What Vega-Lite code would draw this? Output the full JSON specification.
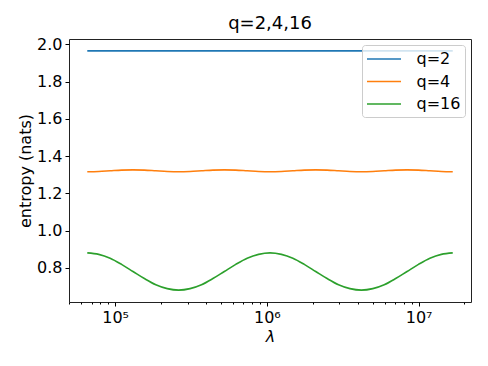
{
  "$schema": "https://vega.github.io/schema/vega-lite/v6.json",
  "width": 402,
  "height": 263,
  "autosize": {"type": "none"},
  "padding": {"left": 69, "top": 39, "right": 17, "bottom": 64},
  "background": "white",
  "config": {
    "font": "DejaVu Sans",
    "view": {"stroke": "#222", "strokeWidth": 1},
    "axis": {"grid": false, "domain": false, "tickColor": "#000", "tickWidth": 1, "labelColor": "#000", "titleColor": "#000", "labelFont": "DejaVu Sans", "titleFont": "DejaVu Sans", "titleFontWeight": "normal"}
  },
  "title": {"text": "q=2,4,16", "fontSize": 18, "fontWeight": "normal", "font": "DejaVu Sans", "color": "#000", "offset": 3},
  "data": {
    "values": [
      {"lambda": 65536, "q2": 1.965, "q4": 1.316, "q16": 0.88},
      {"lambda": 77936, "q2": 1.965, "q4": 1.3175, "q16": 0.872},
      {"lambda": 92682, "q2": 1.965, "q4": 1.321, "q16": 0.851},
      {"lambda": 110218, "q2": 1.965, "q4": 1.3245, "q16": 0.818},
      {"lambda": 131072, "q2": 1.965, "q4": 1.326, "q16": 0.78},
      {"lambda": 155872, "q2": 1.965, "q4": 1.3245, "q16": 0.742},
      {"lambda": 185364, "q2": 1.965, "q4": 1.321, "q16": 0.709},
      {"lambda": 220436, "q2": 1.965, "q4": 1.3175, "q16": 0.688},
      {"lambda": 262144, "q2": 1.965, "q4": 1.316, "q16": 0.68},
      {"lambda": 311744, "q2": 1.965, "q4": 1.3175, "q16": 0.688},
      {"lambda": 370728, "q2": 1.965, "q4": 1.321, "q16": 0.709},
      {"lambda": 440872, "q2": 1.965, "q4": 1.3245, "q16": 0.742},
      {"lambda": 524288, "q2": 1.965, "q4": 1.326, "q16": 0.78},
      {"lambda": 623487, "q2": 1.965, "q4": 1.3245, "q16": 0.818},
      {"lambda": 741455, "q2": 1.965, "q4": 1.321, "q16": 0.851},
      {"lambda": 881744, "q2": 1.965, "q4": 1.3175, "q16": 0.872},
      {"lambda": 1048576, "q2": 1.965, "q4": 1.316, "q16": 0.88},
      {"lambda": 1246974, "q2": 1.965, "q4": 1.3175, "q16": 0.872},
      {"lambda": 1482910, "q2": 1.965, "q4": 1.321, "q16": 0.851},
      {"lambda": 1763488, "q2": 1.965, "q4": 1.3245, "q16": 0.818},
      {"lambda": 2097152, "q2": 1.965, "q4": 1.326, "q16": 0.78},
      {"lambda": 2493948, "q2": 1.965, "q4": 1.3245, "q16": 0.742},
      {"lambda": 2965821, "q2": 1.965, "q4": 1.321, "q16": 0.709},
      {"lambda": 3526975, "q2": 1.965, "q4": 1.3175, "q16": 0.688},
      {"lambda": 4194304, "q2": 1.965, "q4": 1.316, "q16": 0.68},
      {"lambda": 4987896, "q2": 1.965, "q4": 1.3175, "q16": 0.688},
      {"lambda": 5931642, "q2": 1.965, "q4": 1.321, "q16": 0.709},
      {"lambda": 7053950, "q2": 1.965, "q4": 1.3245, "q16": 0.742},
      {"lambda": 8388608, "q2": 1.965, "q4": 1.326, "q16": 0.78},
      {"lambda": 9975792, "q2": 1.965, "q4": 1.3245, "q16": 0.818},
      {"lambda": 11863283, "q2": 1.965, "q4": 1.321, "q16": 0.851},
      {"lambda": 14107901, "q2": 1.965, "q4": 1.3175, "q16": 0.872},
      {"lambda": 16777216, "q2": 1.965, "q4": 1.316, "q16": 0.88}
    ]
  },
  "transform": [
    {"fold": ["q2", "q4", "q16"], "as": ["series", "entropy"]}
  ],
  "mark": {"type": "line", "strokeWidth": 1.6, "interpolate": "monotone"},
  "encoding": {
    "x": {
      "field": "lambda",
      "type": "quantitative",
      "scale": {"type": "log", "domain": [49660, 22130000], "nice": false},
      "axis": {
        "title": "λ",
        "titleFontStyle": "italic",
        "titleFontSize": 16,
        "titlePadding": 3,
        "labelFontSize": 16,
        "labelPadding": 3,
        "values": [50000, 60000, 70000, 80000, 90000, 100000, 200000, 300000, 400000, 500000, 600000, 700000, 800000, 900000, 1000000, 2000000, 3000000, 4000000, 5000000, 6000000, 7000000, 8000000, 9000000, 10000000, 20000000],
        "labelExpr": "datum.value == 100000 ? '10⁵' : datum.value == 1000000 ? '10⁶' : datum.value == 10000000 ? '10⁷' : ''",
        "tickSize": {"condition": {"test": "datum.value == 100000 || datum.value == 1000000 || datum.value == 10000000", "value": 4}, "value": 2},
        "labelFlush": false,
        "labelOverlap": false
      }
    },
    "y": {
      "field": "entropy",
      "type": "quantitative",
      "scale": {"domain": [0.616, 2.029], "nice": false, "zero": false},
      "axis": {
        "title": "entropy (nats)",
        "titleFontSize": 16,
        "titlePadding": 3,
        "labelFontSize": 16,
        "labelPadding": 3,
        "values": [0.8, 1.0, 1.2, 1.4, 1.6, 1.8, 2.0],
        "format": ".1f",
        "tickSize": 4,
        "labelFlush": false
      }
    },
    "color": {
      "field": "series",
      "type": "nominal",
      "sort": ["q2", "q4", "q16"],
      "scale": {"domain": ["q2", "q4", "q16"], "range": ["#1f77b4", "#ff7f0e", "#2ca02c"]},
      "legend": {
        "title": null,
        "orient": "none",
        "legendX": 293,
        "legendY": 6,
        "labelExpr": "datum.value == 'q2' ? 'q=2' : datum.value == 'q4' ? 'q=4' : 'q=16'",
        "labelFontSize": 16,
        "labelColor": "#000",
        "symbolType": "M-2,0H2",
        "symbolSize": 289,
        "symbolStrokeWidth": 1.6,
        "symbolOffset": 8,
        "labelOffset": 23,
        "rowPadding": 4.5,
        "padding": 4.5,
        "fillColor": "rgba(255,255,255,0.8)",
        "strokeColor": "#cccccc",
        "cornerRadius": 3
      }
    }
  }
}
